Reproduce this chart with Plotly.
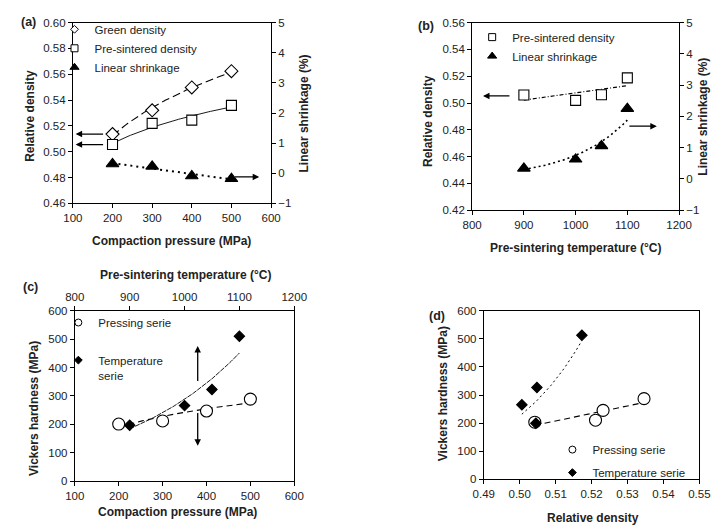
import numpy as np
import plotly.graph_objects as go

W, H = 723, 531
FONT = "Liberation Sans, Arial, sans-serif"

# ---------------- data ----------------
# (a) pressing series
pressure = [200, 300, 400, 500]
green_density = [0.5137, 0.5321, 0.5498, 0.5624]
presint_density_a = [0.5056, 0.5220, 0.5245, 0.5359]
shrinkage_a = [0.31, 0.23, -0.09, -0.18]

# (b) temperature series
temperature = [900, 1000, 1050, 1100]
presint_density_b = [0.5060, 0.5020, 0.5062, 0.5188]
shrinkage_b = [0.34, 0.63, 1.06, 2.25]

# (c) hardness
hardness_pressing = [201, 212, 247, 289]
hardness_temperature = [197, 266, 323, 511]

# (d) hardness vs relative density
density_pressing_d = [0.5042, 0.5211, 0.5232, 0.5346]
hardness_pressing_d = [203, 210, 245, 287]
density_temperature_d = [0.5045, 0.5006, 0.5048, 0.5173]
hardness_temperature_d = [199, 265, 327, 513]

# tick values
ticks_pressure = [100, 200, 300, 400, 500, 600]
ticks_temp = [800, 900, 1000, 1100, 1200]
ticks_dens_a = [0.46, 0.48, 0.50, 0.52, 0.54, 0.56, 0.58, 0.60]
ticks_dens_b = [0.42, 0.44, 0.46, 0.48, 0.50, 0.52, 0.54, 0.56]
ticks_shrink = [-1, 0, 1, 2, 3, 4, 5]
ticks_hard = [0, 100, 200, 300, 400, 500, 600]
ticks_dens_d = [0.49, 0.50, 0.51, 0.52, 0.53, 0.54, 0.55]


# ---------------- trend fits ----------------
def grid(x):
    return np.linspace(min(x), max(x), 80)


def fit_lin(x, y):
    c = np.polyfit(x, y, 1)
    xs = grid(x)
    return xs, np.polyval(c, xs)


def fit_log(x, y):
    c = np.polyfit(np.log(x), y, 1)
    xs = grid(x)
    return xs, c[0] * np.log(xs) + c[1]


def fit_exp(x, y):
    c = np.polyfit(np.asarray(x, float), np.log(y), 1)
    xs = grid(x)
    return xs, np.exp(c[1] + c[0] * xs)


fig = go.Figure()


def trend(xs, ys, xa, ya, dash, width=1.0):
    fig.add_trace(go.Scatter(x=xs, y=ys, xaxis=xa, yaxis=ya, mode="lines",
                             line=dict(color="black", width=width, dash=dash),
                             showlegend=False, hoverinfo="skip"))


def pts(x, y, xa, ya, name, symbol, size, fill, legend, lsize, group=None):
    mk = dict(symbol=symbol, size=size, color=fill, line=dict(color="black", width=1.1))
    fig.add_trace(go.Scatter(x=x, y=y, xaxis=xa, yaxis=ya, mode="markers", name=name,
                             marker=mk, showlegend=False))
    # legend entry (same series, drawn with the small legend-key symbol)
    lk = dict(symbol=symbol, size=lsize, color=fill, line=dict(color="black", width=1))
    fig.add_trace(go.Scatter(x=[None], y=[None], xaxis=xa, yaxis=ya, mode="markers", name=name,
                             marker=lk, legend=legend, legendgroup=group, hoverinfo="skip"))


# (a)
trend(*fit_log(pressure, green_density), "x", "y", "8px,4px", 1.1)
trend(*fit_log(pressure, presint_density_a), "x", "y", "solid", 0.9)
trend(*fit_lin(pressure, shrinkage_a), "x", "y2", "2px,4px", 2)
pts(pressure, green_density, "x", "y", "Green density", "diamond", 10, "white", "legend", 6)
pts(pressure, presint_density_a, "x", "y", "Pre-sintered density", "square", 10, "white", "legend", 7)
pts(pressure, shrinkage_a, "x", "y2", "Linear shrinkage", "triangle-up", 11, "black", "legend", 8)

# (b)
trend(*fit_lin(temperature, presint_density_b), "x2", "y3", "4px,2px,1px,2px", 1.1)
trend(*fit_exp(temperature, shrinkage_b), "x2", "y4", "2px,3px", 1.6)
pts(temperature, presint_density_b, "x2", "y3", "Pre-sintered density", "square", 10, "white", "legend2", 7)
pts(temperature, shrinkage_b, "x2", "y4", "Linear shrinkage", "triangle-up", 11, "black", "legend2", 8)

# (c)
trend(*fit_log(pressure, hardness_pressing), "x3", "y5", "6px,4px", 1.1)
trend(*fit_exp(temperature, hardness_temperature), "x4", "y5", "5px,1px", 0.9)
pts(pressure, hardness_pressing, "x3", "y5", "Pressing serie", "circle", 12, "white", "legend3", 7)
pts(temperature, hardness_temperature, "x4", "y5", "Temperature<br>serie", "diamond", 8, "black", "legend4", 6)

# (d)
trend(*fit_lin(density_pressing_d, hardness_pressing_d), "x5", "y6", "6px,4px", 1.1)
trend(*fit_exp(density_temperature_d, hardness_temperature_d), "x5", "y6", "2px,3px", 1.0)
pts(density_pressing_d, hardness_pressing_d, "x5", "y6", "Pressing serie", "circle", 12, "white", "legend5", 7, "p")
pts(density_temperature_d, hardness_temperature_d, "x5", "y6", "Temperature serie", "diamond", 8, "black", "legend5", 6, "t")


# ---------------- layout ----------------
def dx(a, b):
    return [a / W, b / W]


def dy(top, bottom):
    return [1 - bottom / H, 1 - top / H]


def ax(**kw):
    base = dict(showline=True, linecolor="black", linewidth=1, ticks="outside", ticklen=4,
                tickwidth=1, tickcolor="black", showgrid=False, zeroline=False,
                tickfont=dict(family=FONT, size=11.5, color="#222"), fixedrange=True,
                tickmode="array")
    base.update(kw)
    return base


def leg(xpx, ypx, **kw):
    d = dict(x=xpx / W, y=1 - ypx / H, xanchor="left", yanchor="top",
             bgcolor="rgba(0,0,0,0)", font=dict(family=FONT, size=11.5, color="#222"),
             borderwidth=0, itemwidth=30)
    d.update(kw)
    return d


fig.update_layout(
    width=W, height=H, margin=dict(l=0, r=0, t=0, b=0),
    paper_bgcolor="white", plot_bgcolor="white",
    font=dict(family=FONT, size=11, color="#222"),
    xaxis=ax(domain=dx(64, 269), anchor="y", range=[100, 600], tickvals=ticks_pressure, mirror=True),
    yaxis=ax(domain=dy(17, 202), anchor="x", range=[0.46, 0.60], tickvals=ticks_dens_a,
             ticktext=[f"{v:.2f}" for v in ticks_dens_a]),
    yaxis2=ax(overlaying="y", side="right", anchor="x", range=[-1, 5], tickvals=ticks_shrink),
    xaxis2=ax(domain=dx(477, 691), anchor="y3", range=[800, 1200], tickvals=ticks_temp, mirror=True),
    yaxis3=ax(domain=dy(17, 209), anchor="x2", range=[0.42, 0.56], tickvals=ticks_dens_b,
              ticktext=[f"{v:.2f}" for v in ticks_dens_b]),
    yaxis4=ax(overlaying="y3", side="right", anchor="x2", range=[-1, 5], tickvals=ticks_shrink),
    xaxis3=ax(domain=dx(66, 293), anchor="y5", range=[100, 600], tickvals=ticks_pressure),
    xaxis4=ax(overlaying="x3", side="top", anchor="y5", range=[800, 1200], tickvals=ticks_temp),
    yaxis5=ax(domain=dy(312, 486), anchor="x3", range=[0, 600], tickvals=ticks_hard, mirror=True),
    xaxis5=ax(domain=dx(489, 712), anchor="y6", range=[0.49, 0.55], tickvals=ticks_dens_d,
              ticktext=[f"{v:.2f}" for v in ticks_dens_d], mirror=True),
    yaxis6=ax(domain=dy(312, 484), anchor="x5", range=[0, 600], tickvals=ticks_hard, mirror=True),
    legend=leg(45, 9),
    legend2=leg(477, 17),
    legend3=leg(49, 309),
    legend4=leg(49, 348, valign="top"),
    legend5=leg(560, 439, traceorder="grouped", tracegroupgap=4),
)

ann = []


def label(text, xpx, ypx, size=12, bold=True, angle=0):
    ann.append(dict(text=f"<b>{text}</b>" if bold else text, x=xpx / W, y=1 - ypx / H,
                    xref="paper", yref="paper", showarrow=False, textangle=angle,
                    xanchor="center", yanchor="middle",
                    font=dict(family=FONT, size=size, color="#222")))


label("(a)", 18, 16, 12.5)
label("(b)", 429, 20, 12.5)
label("(c)", 20, 288, 12.5)
label("(d)", 441, 317, 12.5)

label("Compaction pressure (MPa)", 166, 240)
label("Relative density", 20, 112, angle=-90)
label("Linear shrinkage (%)", 303, 110, angle=-90)

label("Pre-sintering temperature (°C)", 584, 248)
label("Relative density", 432, 118, angle=-90)
label("Linear shrinkage (%)", 716, 113, angle=-90)

label("Compaction pressure (MPa)", 172, 518)
label("Pre-sintering temperature (°C)", 181, 275)
label("Vickers hardness (MPa)", 23, 412, angle=-90)

label("Relative density", 602, 524)
label("Vickers hardness (MPa)", 447, 397, angle=-90)


def arrow(x, y, axv, ayv, xr, yr):
    ann.append(dict(x=x, y=y, ax=axv, ay=ayv, xref=xr, yref=yr, axref=xr, ayref=yr,
                    text="", showarrow=True, arrowhead=2, arrowsize=1, arrowwidth=1.3,
                    arrowcolor="black"))


arrow(107, 0.5137, 180, 0.5137, "x", "y")
arrow(107, 0.5056, 180, 0.5056, "x", "y")
arrow(570, -0.12, 505, -0.12, "x", "y2")
arrow(821, 0.5053, 875, 0.5053, "x2", "y3")
arrow(1157, 1.69, 1101, 1.69, "x2", "y4")
arrow(380, 476, 380, 348, "x3", "y5")
arrow(380, 124, 380, 245, "x3", "y5")

fig.update_layout(annotations=ann)
fig.write_html("out.html", config={"displayModeBar": False},
               post_script="document.body.style.margin='0';document.body.style.overflow='hidden';")
